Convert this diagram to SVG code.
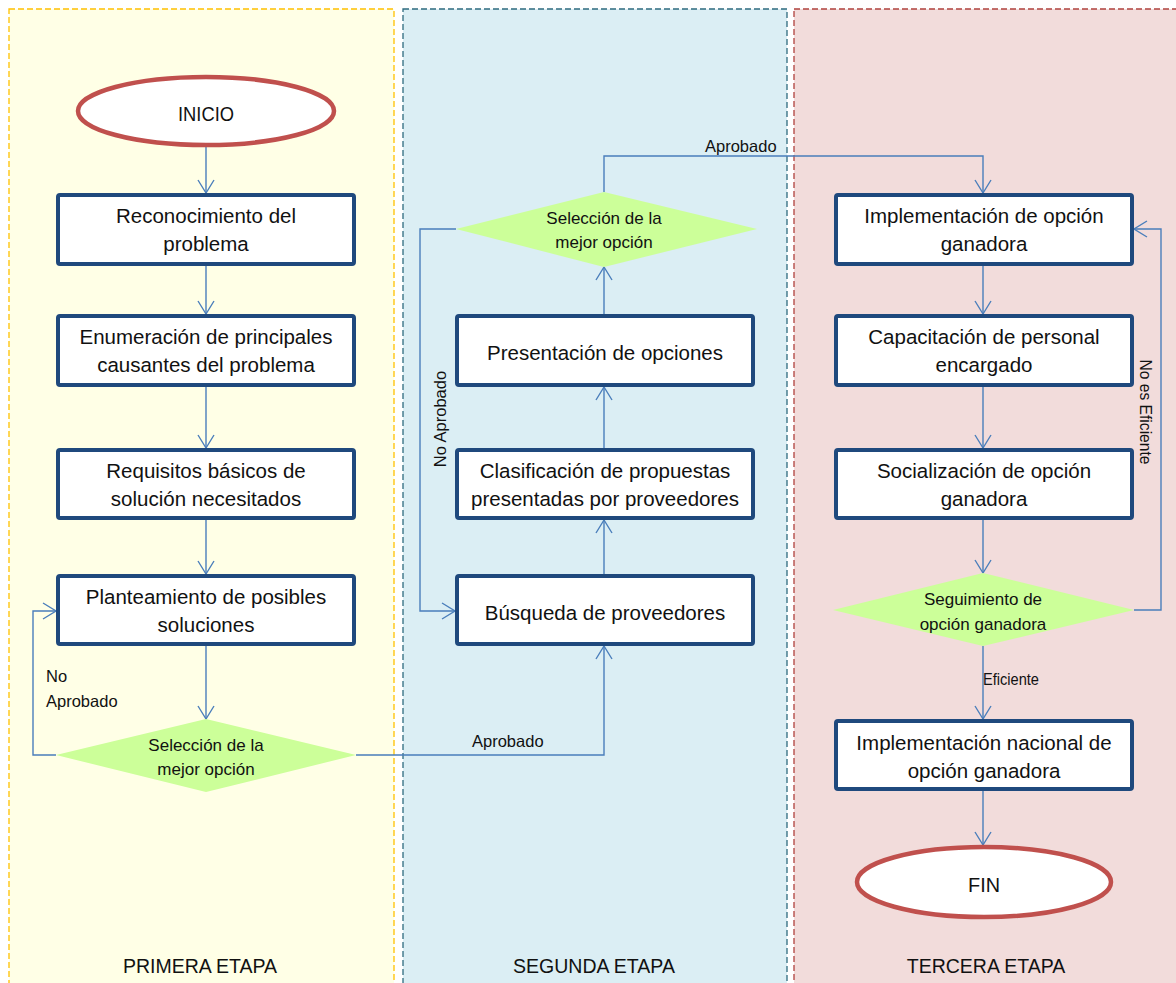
<svg xmlns="http://www.w3.org/2000/svg" width="1176" height="983" viewBox="0 0 1176 983">
  <style>
    text { font-family: "Liberation Sans", Arial, sans-serif; fill: #111; }
    .lane1 { fill: #ffffe6; stroke: #ffc000; stroke-width: 1.3; stroke-dasharray: 6 3; }
    .lane2 { fill: #dbeef4; stroke: #2e6b7f; stroke-width: 1.3; stroke-dasharray: 6 3; }
    .lane3 { fill: #f2dcdb; stroke: #b0413e; stroke-width: 1.3; stroke-dasharray: 6 3; }
    .box { fill: #ffffff; stroke: #1f497d; stroke-width: 4; }
    .term { fill: #ffffff; stroke: #c0504d; stroke-width: 4.5; }
    .dec { fill: #ccff99; stroke: none; }
    .bt { font-size: 20.5px; text-anchor: middle; }
    .dt { font-size: 17px; text-anchor: middle; }
    .lbl { font-size: 16.5px; }
    .stage { font-size: 19.5px; text-anchor: middle; }
    .conn path { fill: none; stroke: #4a7ebb; stroke-width: 1.4; marker-end: url(#arrow); }
  </style>
  <defs>
    <marker id="arrow" markerUnits="userSpaceOnUse" markerWidth="16" markerHeight="18" refX="14" refY="8" orient="auto" overflow="visible">
      <path d="M1,0 L14,8 L1,16" fill="none" stroke="#4a7ebb" stroke-width="1.4"/>
    </marker>
  </defs>

  <!-- stage lanes -->
  <g id="lanes">
    <rect class="lane1" x="9" y="9" width="385" height="990"/>
    <rect class="lane2" x="403" y="9" width="384" height="990"/>
    <rect class="lane3" x="794" y="9" width="400" height="990"/>
    <text class="stage" x="200" y="973">PRIMERA ETAPA</text>
    <text class="stage" x="594" y="973">SEGUNDA ETAPA</text>
    <text class="stage" x="986" y="973">TERCERA ETAPA</text>
  </g>

  <!-- connectors -->
  <g id="connectors" class="conn">
    <path d="M206,147 V193"/>
    <path d="M206,266 V314"/>
    <path d="M206,387 V448"/>
    <path d="M206,520 V574"/>
    <path d="M206,646 V719"/>
    <path d="M56,755 H33 V611 H56"/>
    <path d="M356,755 H604 V646"/>
    <path d="M604,574 V520"/>
    <path d="M604,448 V387"/>
    <path d="M604,314 V267"/>
    <path d="M456,229 H420 V611 H455"/>
    <path d="M604,192 V156 H983 V193"/>
    <path d="M983,266 V314"/>
    <path d="M983,387 V448"/>
    <path d="M983,520 V573"/>
    <path d="M983,646 V719"/>
    <path d="M983,791 V845"/>
    <path d="M1134,610 H1161 V229 H1134"/>
  </g>

  <!-- connector labels -->
  <g id="connector-labels">
    <text class="lbl" x="46" y="682">No</text>
    <text class="lbl" x="46" y="707">Aprobado</text>
    <text class="lbl" x="472" y="747">Aprobado</text>
    <text class="lbl" x="705" y="152">Aprobado</text>
    <text class="lbl" x="446" y="419" text-anchor="middle" transform="rotate(-90 446 419)">No Aprobado</text>
    <text class="lbl" x="1140" y="412" text-anchor="middle" textLength="105" lengthAdjust="spacingAndGlyphs" transform="rotate(90 1140 412)">No es Eficiente</text>
    <text class="lbl" x="983" y="685" textLength="56" lengthAdjust="spacingAndGlyphs">Eficiente</text>
  </g>

  <!-- first stage -->
  <g id="inicio">
    <ellipse class="term" cx="206" cy="111" rx="128" ry="34"/>
    <text x="206" y="121" font-size="21" text-anchor="middle" textLength="56" lengthAdjust="spacingAndGlyphs">INICIO</text>
  </g>
  <g id="reconocimiento">
    <rect class="box" x="58" y="195" width="296" height="69" rx="2"/>
    <text class="bt" x="206" y="222.5">Reconocimiento del</text>
    <text class="bt" x="206" y="251">problema</text>
  </g>
  <g id="enumeracion">
    <rect class="box" x="58" y="316" width="296" height="69" rx="2"/>
    <text class="bt" x="206" y="343.5">Enumeración de principales</text>
    <text class="bt" x="206" y="372">causantes del problema</text>
  </g>
  <g id="requisitos">
    <rect class="box" x="58" y="450" width="296" height="68" rx="2"/>
    <text class="bt" x="206" y="477.5">Requisitos básicos de</text>
    <text class="bt" x="206" y="506">solución necesitados</text>
  </g>
  <g id="planteamiento">
    <rect class="box" x="58" y="576" width="296" height="68" rx="2"/>
    <text class="bt" x="206" y="603.5">Planteamiento de posibles</text>
    <text class="bt" x="206" y="632">soluciones</text>
  </g>
  <g id="seleccion-1">
    <polygon class="dec" points="56,755 206,719 356,755 206,792"/>
    <text class="dt" x="206" y="751">Selección de la</text>
    <text class="dt" x="206" y="775">mejor opción</text>
  </g>

  <!-- second stage -->
  <g id="busqueda">
    <rect class="box" x="457" y="576" width="296" height="68" rx="2"/>
    <text class="bt" x="605" y="619.5">Búsqueda de proveedores</text>
  </g>
  <g id="clasificacion">
    <rect class="box" x="457" y="450" width="296" height="68" rx="2"/>
    <text class="bt" x="605" y="477.5">Clasificación de propuestas</text>
    <text class="bt" x="605" y="506">presentadas por proveedores</text>
  </g>
  <g id="presentacion">
    <rect class="box" x="457" y="316" width="296" height="69" rx="2"/>
    <text class="bt" x="605" y="359.5">Presentación de opciones</text>
  </g>
  <g id="seleccion-2">
    <polygon class="dec" points="456,229 604,192 757,229 604,267"/>
    <text class="dt" x="604" y="224">Selección de la</text>
    <text class="dt" x="604" y="248">mejor opción</text>
  </g>

  <!-- third stage -->
  <g id="implementacion">
    <rect class="box" x="836" y="195" width="296" height="69" rx="2"/>
    <text class="bt" x="984" y="222.5">Implementación de opción</text>
    <text class="bt" x="984" y="251">ganadora</text>
  </g>
  <g id="capacitacion">
    <rect class="box" x="836" y="316" width="296" height="69" rx="2"/>
    <text class="bt" x="984" y="343.5">Capacitación de personal</text>
    <text class="bt" x="984" y="372">encargado</text>
  </g>
  <g id="socializacion">
    <rect class="box" x="836" y="450" width="296" height="68" rx="2"/>
    <text class="bt" x="984" y="477.5">Socialización de opción</text>
    <text class="bt" x="984" y="506">ganadora</text>
  </g>
  <g id="seguimiento">
    <polygon class="dec" points="833,610 983,573 1134,610 983,646"/>
    <text class="dt" x="983" y="605">Seguimiento de</text>
    <text class="dt" x="983" y="630">opción ganadora</text>
  </g>
  <g id="implementacion-nacional">
    <rect class="box" x="836" y="721" width="296" height="68" rx="2"/>
    <text class="bt" x="984" y="749.5">Implementación nacional de</text>
    <text class="bt" x="984" y="778">opción ganadora</text>
  </g>
  <g id="fin">
    <ellipse class="term" cx="984" cy="882" rx="127" ry="35"/>
    <text x="984" y="892" font-size="21" text-anchor="middle" textLength="32" lengthAdjust="spacingAndGlyphs">FIN</text>
  </g>
</svg>
